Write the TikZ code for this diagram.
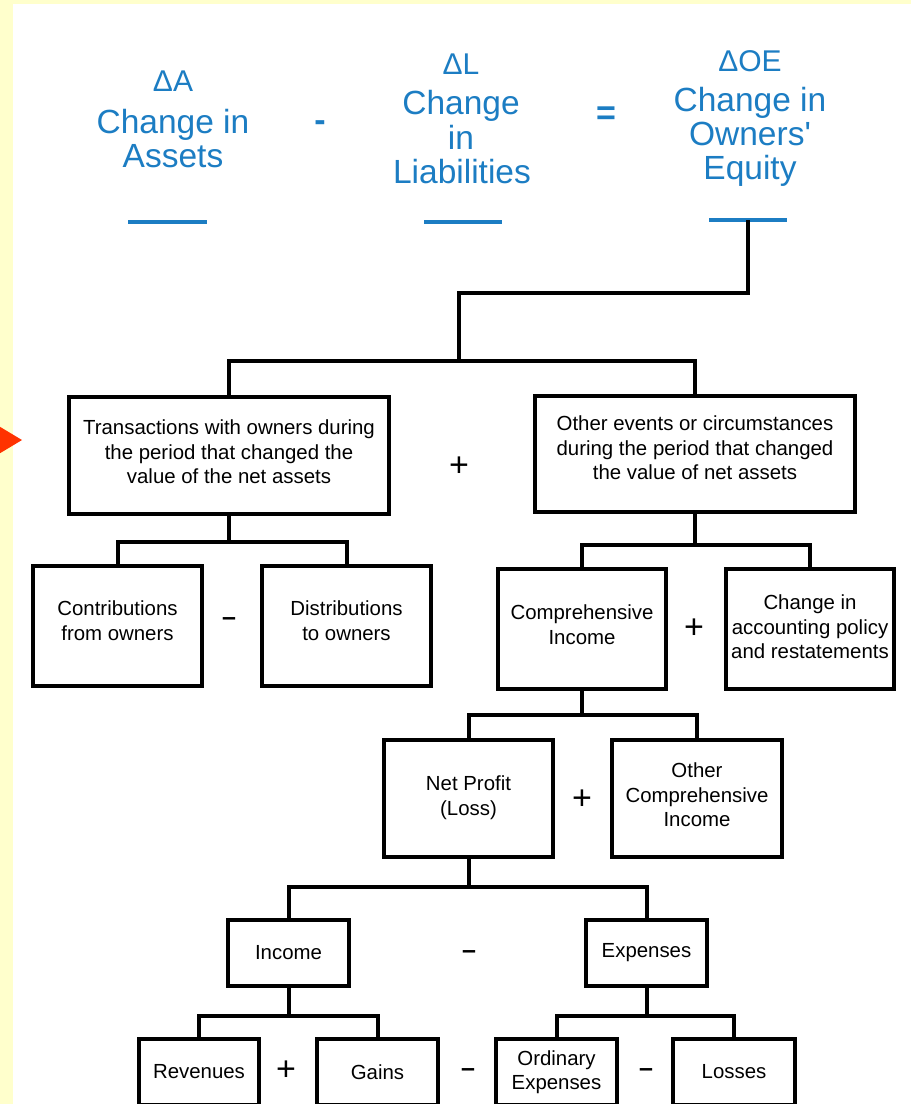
\documentclass[tikz,border=0pt]{standalone}
\usepackage{fontspec}
\setmainfont{Liberation Sans}
\definecolor{hdrblue}{RGB}{28,125,195}
\definecolor{pagebg}{RGB}{255,255,204}
\definecolor{marker}{RGB}{255,51,0}
\tikzset{
  box/.style={draw=black, line width=4pt, rectangle, inner sep=0pt, fill=white},
  boxtxt/.style={align=center, font=\fontsize{20.4}{24.5}\selectfont, inner sep=0pt},
  conn/.style={draw=black, line width=4pt},
  hdr/.style={text=hdrblue, font=\fontsize{33.5}{34}\selectfont, anchor=base, inner sep=0pt},
  hdrdelta/.style={text=hdrblue, font=\fontsize{30}{30}\selectfont, anchor=base, inner sep=0pt},
  hdrop/.style={text=hdrblue, font=\bfseries\fontsize{34}{34}\selectfont, inner sep=0pt},
  bluebar/.style={draw=hdrblue, line width=4.5pt},
  plusop/.style={font=\fontsize{34}{34}\selectfont, inner sep=0pt},
  minusop/.style={font=\bfseries\fontsize{25}{25}\selectfont, inner sep=0pt},
}
\begin{document}
\begin{tikzpicture}[x=1pt,y=-1pt]
  \useasboundingbox (0,0) rectangle (911,1104);
  \clip (0,0) rectangle (911,1104);
  % page background and white sheet
  \fill[pagebg] (0,0) rectangle (911,1104);
  \fill[white] (13,4) rectangle (911,1104);
  % pointer on the left margin
  \fill[marker] (-8,422) -- (22,440) -- (-8,458) -- cycle;

  % equation header
  \node[hdrdelta] (dA) at (173,91) {ΔA};
  \node[hdr] (hA1) at (173,133) {Change in};
  \node[hdr] (hA2) at (173,167) {Assets};
  \node[hdrop] (minusH) at (320,126) {-};
  \node[hdrdelta] (dL) at (461,74) {ΔL};
  \node[hdr] (hL1) at (461,114) {Change};
  \node[hdr] (hL2) at (461,149) {in};
  \node[hdr] (hL3) at (462,183) {Liabilities};
  \node[hdrop] (eqH) at (606,116) {=};
  \node[hdrdelta] (dOE) at (750,71) {ΔOE};
  \node[hdr] (hO1) at (750,111) {Change in};
  \node[hdr] (hO2) at (750,145) {Owners\textquotesingle};
  \node[hdr] (hO3) at (750,179) {Equity};
  \draw[bluebar] (128,222) -- (207,222);
  \draw[bluebar] (424,222) -- (502,222);
  \draw[bluebar] (709,220) -- (787,220);
  \coordinate (oe) at (748,220);

  % boxes
  \node[box, minimum width=320pt, minimum height=117pt,
        label={[boxtxt,yshift=3.5pt]center:{Transactions with owners during\\the period that changed the\\value of the net assets}}]
        (T) at (229,455.5) {};
  \node[box, minimum width=320pt, minimum height=116pt,
        label={[boxtxt,yshift=6pt]center:{Other events or circumstances\\during the period that changed\\the value of net assets}}]
        (O) at (695,454) {};
  \node[box, minimum width=169pt, minimum height=120pt,
        label={[boxtxt,yshift=5.5pt]center:{Contributions\\from owners}}]
        (C) at (117.5,626) {};
  \node[box, minimum width=169pt, minimum height=120pt,
        label={[boxtxt,yshift=5.5pt]center:{Distributions\\to owners}}]
        (D) at (346.5,626) {};
  \node[box, minimum width=168pt, minimum height=120pt,
        label={[boxtxt,yshift=4.5pt]center:{Comprehensive\\Income}}]
        (CI) at (582,629) {};
  \node[box, minimum width=168pt, minimum height=120pt,
        label={[boxtxt,yshift=2pt]center:{Change in\\accounting policy\\and restatements}}]
        (AP) at (810,629) {};
  \node[box, minimum width=169pt, minimum height=117pt,
        label={[boxtxt,yshift=1pt]center:{Net Profit\\(Loss)}}]
        (NP) at (468.5,798.5) {};
  \node[box, minimum width=170pt, minimum height=117pt,
        label={[boxtxt,yshift=3.5pt]center:{Other\\Comprehensive\\Income}}]
        (OCI) at (697,798.5) {};
  \node[box, minimum width=121pt, minimum height=66pt,
        label={[boxtxt]center:{Income}}] (I) at (288.5,953) {};
  \node[box, minimum width=121pt, minimum height=66pt,
        label={[boxtxt]center:{Expenses}}] (E) at (646.5,953) {};
  \node[box, minimum width=120pt, minimum height=66pt,
        label={[boxtxt]center:{Revenues}}] (R) at (199,1072) {};
  \node[box, minimum width=121pt, minimum height=66pt,
        label={[boxtxt]center:{Gains}}] (G) at (377.5,1072) {};
  \node[box, minimum width=121pt, minimum height=66pt,
        label={[boxtxt]center:{Ordinary\\Expenses}}] (OE) at (556.5,1072) {};
  \node[box, minimum width=122pt, minimum height=66pt,
        label={[boxtxt]center:{Losses}}] (L) at (734,1072) {};

  % operators between boxes
  \node[plusop] (p1) at (459,467) {+};
  \node[minusop] (m1) at (229,622) {–};
  \node[plusop] (p2) at (694,629) {+};
  \node[plusop] (p3) at (582,800) {+};
  \node[minusop] (m2) at (469,955) {–};
  \node[plusop] (p4) at (286,1071) {+};
  \node[minusop] (m3) at (468,1073) {–};
  \node[minusop] (m4) at (646,1073) {–};

  % tree connectors
  \coordinate (split) at (459,293);
  \coordinate (hub) at (459,361);
  \draw[conn] (oe) |- (split) -- (hub);
  \draw[conn] (T.north) |- (hub) -| (O.north);

  \coordinate (tj) at (229,542);
  \draw[conn] (T.south) -- (tj);
  \draw[conn] (C.north) |- (tj) -| (D.north);

  \coordinate (oj) at (695,545);
  \draw[conn] (O.south) -- (oj);
  \draw[conn] (CI.north) |- (oj) -| (AP.north);

  \coordinate (cj) at (582,715);
  \draw[conn] (CI.south) -- (cj);
  \draw[conn] (NP.north) |- (cj) -| (OCI.north);

  \coordinate (nj) at (468.5,887);
  \draw[conn] (NP.south) -- (nj);
  \draw[conn] (I.north) |- (nj) -| (E.north);

  \coordinate (ij) at (288.5,1016);
  \draw[conn] (I.south) -- (ij);
  \draw[conn] (R.north) |- (ij) -| (G.north);

  \coordinate (ej) at (646.5,1016);
  \draw[conn] (E.south) -- (ej);
  \draw[conn] (OE.north) |- (ej) -| (L.north);
\end{tikzpicture}
\end{document}
